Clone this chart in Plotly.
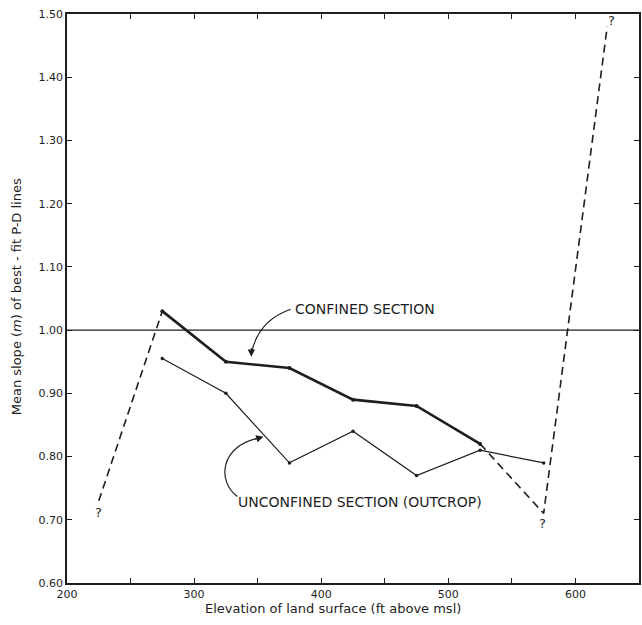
import plotly.graph_objects as go

# Data
x_conf = [275, 325, 375, 425, 475, 525]
y_conf = [1.03, 0.95, 0.94, 0.89, 0.88, 0.82]

x_unconf = [275, 325, 375, 425, 475, 525, 575]
y_unconf = [0.955, 0.90, 0.79, 0.84, 0.77, 0.81, 0.79]

x_dash_left = [225, 275]
y_dash_left = [0.73, 1.03]

x_dash_right = [525, 575, 625]
y_dash_right = [0.82, 0.71, 1.48]

ref_level = 1.00

x_ticks = [200, 300, 400, 500, 600]
y_ticks = [0.60, 0.70, 0.80, 0.90, 1.00, 1.10, 1.20, 1.30, 1.40, 1.50]
y_ticktext = ["0.60", "0.70", "0.80", "0.90", "1.00", "1.10", "1.20", "1.30", "1.40", "1.50"]

INK = "#1e1e1e"
FONT = "DejaVu Sans, Verdana, sans-serif"

fig = go.Figure()

fig.add_trace(go.Scatter(x=x_dash_left, y=y_dash_left, mode="lines",
                         line=dict(color=INK, width=1.6, dash="8px,5px"), hoverinfo="skip"))
fig.add_trace(go.Scatter(x=x_dash_right, y=y_dash_right, mode="lines",
                         line=dict(color=INK, width=1.6, dash="8px,5px"), hoverinfo="skip"))
fig.add_trace(go.Scatter(x=x_unconf, y=y_unconf, mode="lines+markers",
                         line=dict(color=INK, width=1.2),
                         marker=dict(color=INK, size=3.5), name="Unconfined"))
fig.add_trace(go.Scatter(x=x_conf, y=y_conf, mode="lines+markers",
                         line=dict(color=INK, width=2.6),
                         marker=dict(color=INK, size=4), name="Confined"))

fig.add_hline(y=ref_level, line=dict(color=INK, width=1.3), layer="below")

# curved arrows (annotation decorations)
fig.add_shape(type="path", xref="x", yref="y",
              path="M 376,1.033 Q 350,1.015 345,0.962",
              line=dict(color=INK, width=1.2))
fig.add_annotation(x=345, y=0.958, ax=0, ay=-10, xref="x", yref="y",
                   showarrow=True, arrowhead=2, arrowsize=1.2, arrowwidth=1.2,
                   arrowcolor=INK, text="", standoff=0)
fig.add_shape(type="path", xref="x", yref="y",
              path="M 334,0.737 C 318,0.760 320,0.818 352,0.830",
              line=dict(color=INK, width=1.2))
fig.add_annotation(x=354.5, y=0.8315, ax=-10, ay=3, xref="x", yref="y",
                   showarrow=True, arrowhead=2, arrowsize=1.2, arrowwidth=1.2,
                   arrowcolor=INK, text="", standoff=0)

fig.add_annotation(x=378, y=1.033, xref="x", yref="y", text="CONFINED SECTION",
                   showarrow=False, xanchor="left", yanchor="middle",
                   font=dict(family=FONT, size=14, color=INK))
fig.add_annotation(x=333, y=0.728, xref="x", yref="y",
                   text="UNCONFINED SECTION (OUTCROP)",
                   showarrow=False, xanchor="left", yanchor="middle",
                   font=dict(family=FONT, size=14, color=INK))

for qx, qy in [(225, 0.712), (574, 0.694), (628, 1.49)]:
    fig.add_annotation(x=qx, y=qy, xref="x", yref="y", text="?", showarrow=False,
                       font=dict(family=FONT, size=13, color=INK))

# axis titles
fig.add_annotation(x=(334 - 67) / 575, y=-25 / 569, xref="paper", yref="paper",
                   text="Elevation of land surface (ft above msl)",
                   showarrow=False, xanchor="center", yanchor="middle",
                   font=dict(family=FONT, size=13, color=INK))
fig.add_annotation(x=(16 - 67) / 575, y=(583 - 297) / 569, xref="paper", yref="paper",
                   text="Mean slope (<i>m</i>) of best - fit P-D lines", textangle=-90,
                   showarrow=False, xanchor="center", yanchor="middle",
                   font=dict(family=FONT, size=13, color=INK))

fig.update_layout(
    width=642, height=625,
    margin=dict(l=67, r=1, t=14, b=42),
    paper_bgcolor="white", plot_bgcolor="white",
    showlegend=False,
    font=dict(family=FONT, size=11, color=INK),
)
fig.update_xaxes(range=[200, 650], tickvals=x_ticks, ticks="inside", ticklen=5,
                 tickcolor=INK, showline=True, linecolor=INK, linewidth=1.5,
                 mirror="ticks", showgrid=False, zeroline=False,
                 minor=dict(dtick=50, ticks="inside", ticklen=5, tickcolor=INK, showgrid=False),
                 tickfont=dict(family=FONT, size=11, color=INK))
fig.update_yaxes(range=[0.60, 1.50], tickvals=y_ticks, ticktext=y_ticktext,
                 ticks="inside", ticklen=5, tickcolor=INK,
                 showline=True, linecolor=INK, linewidth=1.5, mirror="ticks",
                 showgrid=False, zeroline=False,
                 tickfont=dict(family=FONT, size=11, color=INK))

fig.write_html("out.html")
